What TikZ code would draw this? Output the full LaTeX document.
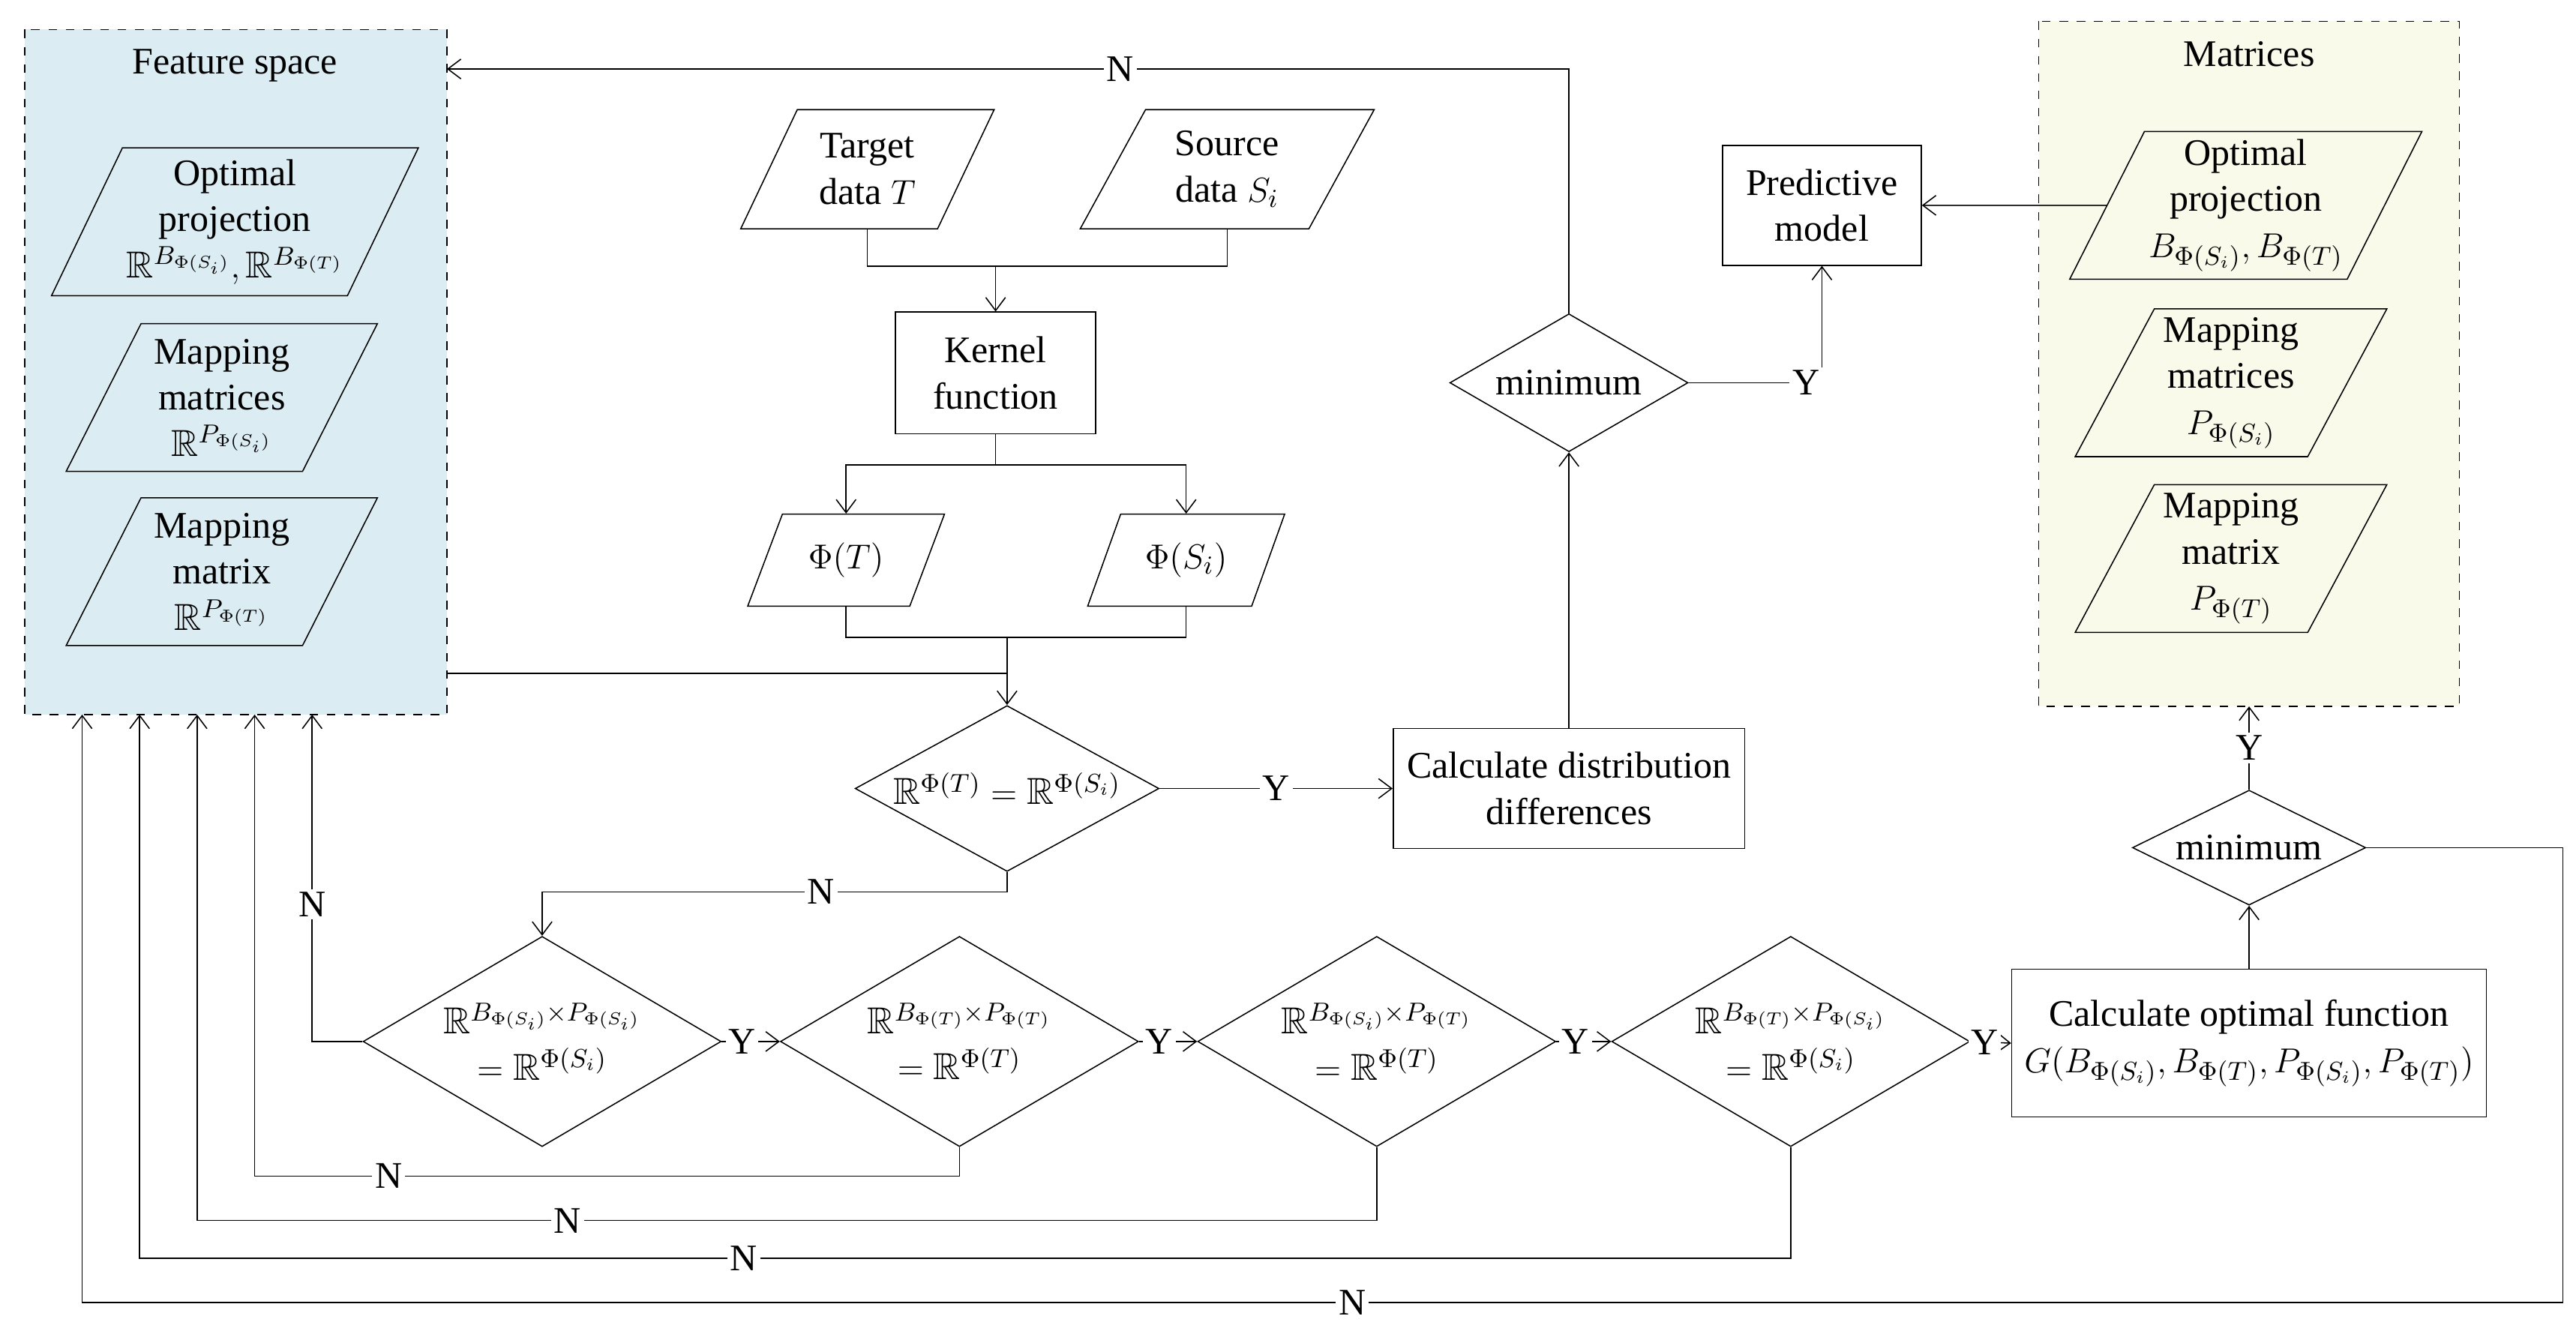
\documentclass[tikz,border=0pt]{standalone}
\usepackage{amssymb}
\usepackage{fontspec}
\setmainfont{Liberation Serif}
\usetikzlibrary{positioning,arrows.meta,calc,shapes.geometric}
\definecolor{fsblue}{RGB}{220,236,243}
\definecolor{mtyellow}{RGB}{250,250,235}

\begin{document}
\begin{tikzpicture}[
    x=0.02cm, y=-0.02cm,
    font=\fontsize{13}{16}\selectfont,
    proc/.style={
        draw, rectangle, align=center, inner sep=1mm
    },
    data/.style={
        draw, trapezium, trapezium left angle=62, trapezium right angle=118,
        trapezium stretches=true, align=center, inner sep=0.5mm
    },
    decision/.style={
        draw, diamond, aspect=1.7, align=center, inner sep=0pt
    },
    group/.style={
        draw, dashed, fill=#1
    },
    arr/.style={-{Straight Barb[length=1.6mm,width=2.4mm]}},
    lab/.style={fill=white, inner sep=1pt}
]
    \useasboundingbox (0,0) rectangle (1568,808);

    % Groups
    \draw[group=fsblue] (15,18) rectangle (272,435);
    \node (fs) at (143,40) {Feature space};
    \draw[group=mtyellow] (1241,13) rectangle (1497,430);
    \node (mt) at (1369,33) {Matrices};
    \coordinate (fsR) at (272,410);
    \coordinate (fsN) at (272,42);

    % Feature space contents
    \node[data, minimum width=4.1cm, minimum height=1.8cm] (fs1) at (143,135)
        {Optimal\\projection\\$\mathbb{R}^{B_{\Phi(S_i)}},\mathbb{R}^{B_{\Phi(T)}}$};
    \node[data, minimum width=3.8cm, minimum height=1.8cm] (fs2) at (135,242)
        {Mapping\\matrices\\$\mathbb{R}^{P_{\Phi(S_i)}}$};
    \node[data, minimum width=3.8cm, minimum height=1.8cm] (fs3) at (135,348)
        {Mapping\\matrix\\$\mathbb{R}^{P_{\Phi(T)}}$};

    % Matrices contents
    \node[data, minimum width=4.1cm, minimum height=1.8cm] (mt1) at (1367,125)
        {Optimal\\projection\\$B_{\Phi(S_i)},B_{\Phi(T)}$};
    \node[data, minimum width=3.8cm, minimum height=1.8cm] (mt2) at (1358,233)
        {Mapping\\matrices\\$P_{\Phi(S_i)}$};
    \node[data, minimum width=3.8cm, minimum height=1.8cm] (mt3) at (1358,340)
        {Mapping\\matrix\\$P_{\Phi(T)}$};

    % Inputs
    \node[data, minimum width=3.1cm, minimum height=1.45cm] (tgt) at (528,103) {Target\\data $T$};
    \node[data, minimum width=3.6cm, minimum height=1.45cm] (src) at (747,103) {Source\\data $S_i$};
    \node[proc, minimum width=2.44cm, minimum height=1.48cm] (kern) at (606,227) {Kernel\\function};
    \node[data, minimum width=2.4cm, minimum height=1.12cm] (phit) at (515,341) {$\Phi(T)$};
    \node[data, minimum width=2.4cm, minimum height=1.12cm] (phis) at (722,341) {$\Phi(S_i)$};

    % Middle
    \node[decision, minimum width=3.7cm, minimum height=1.76cm] (eq) at (613,480)
        {$\mathbb{R}^{\Phi(T)}=\mathbb{R}^{\Phi(S_i)}$};
    \node[proc, minimum width=4.28cm, minimum height=1.46cm] (dist) at (955,480)
        {Calculate distribution\\differences};
    \node[decision, minimum width=2.9cm, minimum height=1.68cm] (min1) at (955,233) {minimum};
    \node[proc, minimum width=2.42cm, minimum height=1.46cm] (pred) at (1109,125) {Predictive\\model};

    % Right
    \node[decision, minimum width=2.84cm, minimum height=1.4cm] (min2) at (1369,516) {minimum};
    \node[proc, minimum width=5.78cm, minimum height=1.8cm] (opt) at (1369,635)
        {Calculate optimal function\\$G(B_{\Phi(S_i)},B_{\Phi(T)},P_{\Phi(S_i)},P_{\Phi(T)})$};

    % Bottom decisions
    \node[decision, minimum width=4.36cm, minimum height=2.56cm] (d1) at (330,634)
        {$\mathbb{R}^{B_{\Phi(S_i)}\times P_{\Phi(S_i)}}$\\$=\mathbb{R}^{\Phi(S_i)}$};
    \node[decision, minimum width=4.36cm, minimum height=2.56cm] (d2) at (584,634)
        {$\mathbb{R}^{B_{\Phi(T)}\times P_{\Phi(T)}}$\\$=\mathbb{R}^{\Phi(T)}$};
    \node[decision, minimum width=4.36cm, minimum height=2.56cm] (d3) at (838,634)
        {$\mathbb{R}^{B_{\Phi(S_i)}\times P_{\Phi(T)}}$\\$=\mathbb{R}^{\Phi(T)}$};
    \node[decision, minimum width=4.36cm, minimum height=2.56cm] (d4) at (1090,634)
        {$\mathbb{R}^{B_{\Phi(T)}\times P_{\Phi(S_i)}}$\\$=\mathbb{R}^{\Phi(S_i)}$};

    % Feature space targets on bottom edge
    \foreach \i/\xx in {a/50, b/85, c/120, d/155, e/190}
    {
        \coordinate (fs\i) at (\xx,435);
    }

    % Top flow
    \draw (tgt.south) |- (606,162) -| (src.south);
    \draw[arr] (606,162) -- (kern.north);
    \draw (kern.south) -- (606,283);
    \draw[arr] (606,283) -| (phit.north);
    \draw[arr] (606,283) -| (phis.north);
    \draw (phit.south) |- (613,388) -| (phis.south);
    \draw (fsR) -- (613,410);
    \draw[arr] (613,388) -- (eq.north);
    \draw[arr] (eq.east) -- node[lab] {Y} (dist.west);
    \draw[arr] (dist.north) -- (min1.south);
    \draw[arr] (min1.north) |- node[lab, pos=0.7] {N} (fsN);
    \draw[arr] (min1.east) -- node[lab, pos=0.88] {Y} (1109,233) -- (pred.south);
    \draw[arr] (mt1.west) -- (pred.east);

    % Bottom chain
    \draw[arr] (eq.south) |- node[lab, pos=0.7] {N} (330,543) -- (d1.north);
    \foreach \from/\to in {d1/d2, d2/d3, d3/d4, d4/opt}
    {
        \draw[arr] (\from.east) -- node[lab, pos=0.35] {Y} (\to.west);
    }
    \draw[arr] (d1.west) -| node[lab, pos=0.71] {N} (fse);
    \draw[arr] (d2.south) |- node[lab, pos=0.905] {N} (155,716) -- (fsd);
    \draw[arr] (d3.south) |- node[lab, pos=0.843] {N} (120,743) -- (fsc);
    \draw[arr] (d4.south) |- node[lab, pos=0.817] {N} (85,766) -- (fsb);
    \draw[arr] (opt.north) -- (min2.south);
    \draw[arr] (min2.north) -- node[lab] {Y} (1369,430);
    \draw[arr] (min2.east) -- (1560,516) |- node[lab, pos=0.744] {N} (50,793) -- (fsa);

\end{tikzpicture}
\end{document}
